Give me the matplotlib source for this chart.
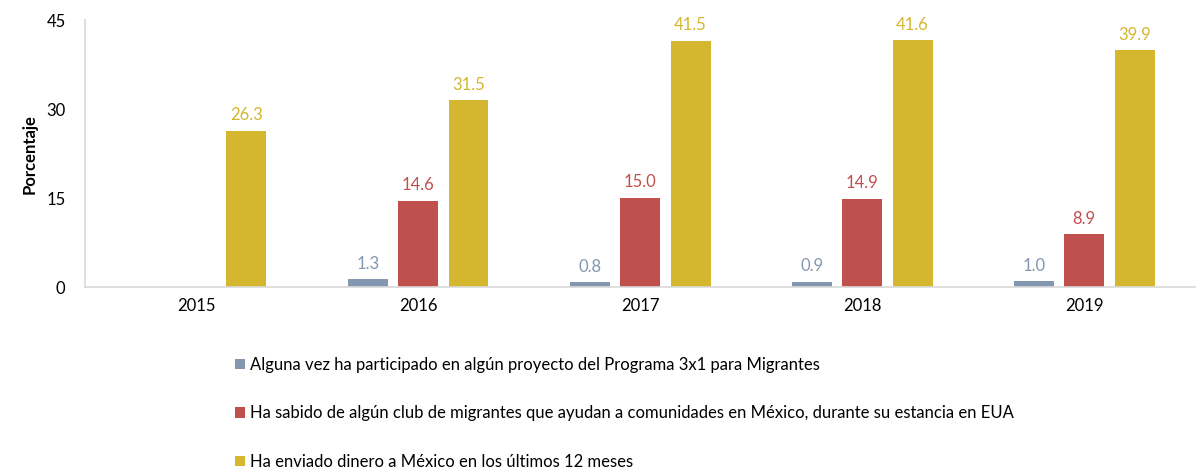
import matplotlib
matplotlib.use("Agg")
import matplotlib.pyplot as plt
import numpy as np

years = ["2015", "2016", "2017", "2018", "2019"]
participado = [None, 1.3, 0.8, 0.9, 1.0]
club = [None, 14.6, 15.0, 14.9, 8.9]
enviado = [26.3, 31.5, 41.5, 41.6, 39.9]
series_labels = [
    "Alguna vez ha participado en algún proyecto del Programa 3x1 para Migrantes",
    "Ha sabido de algún club de migrantes que ayudan a comunidades en México, durante su estancia en EUA",
    "Ha enviado dinero a México en los últimos 12 meses",
]
colors = ["#8497B0", "#C0504D", "#D4B62F"]
yticks = [0, 15, 30, 45]

plt.rcParams['font.family'] = ['Lato', 'DejaVu Sans']

fig = plt.figure(figsize=(11.99, 4.70), dpi=100)
ax = fig.add_axes([0.0709, 0.389, 0.926, 0.568])

x = np.arange(len(years))
width = 0.18
offsets = [-0.227, 0.0, 0.227]
handles = []
for data, off, col, lab in zip([participado, club, enviado], offsets, colors, series_labels):
    xs = [xi + off for xi, v in zip(x, data) if v is not None]
    vs = [v for v in data if v is not None]
    bars = ax.bar(xs, vs, width=width, color=col, label=lab)
    handles.append(bars)
    for xi, v in zip(xs, vs):
        ax.text(xi, v + 1.3, f"{v:.1f}", ha="center", va="bottom", color=col, fontsize=12)

ax.set_xlim(-0.5, len(years) - 0.5)
ax.set_ylim(0, 45)
ax.set_yticks(yticks)
ax.set_xticks(x)
ax.set_xticklabels(years)
ax.tick_params(axis="both", length=0, labelsize=12, pad=8)
ax.tick_params(axis="y", pad=14)
for s in ["top", "right"]:
    ax.spines[s].set_visible(False)
for s in ["left", "bottom"]:
    ax.spines[s].set_color("#D9D9D9")
    ax.spines[s].set_linewidth(1.2)
ax.set_ylabel("Porcentaje", fontsize=12, fontweight="bold", labelpad=6)

fig.legend(handles=handles, labels=series_labels, loc="upper left",
           bbox_to_anchor=(0.196, 0.241), frameon=False, fontsize=12,
           handlelength=0.6, handleheight=0.6, handletextpad=0.3,
           labelspacing=1.95, borderaxespad=0, borderpad=0)

fig.savefig("out.png", dpi=100)
